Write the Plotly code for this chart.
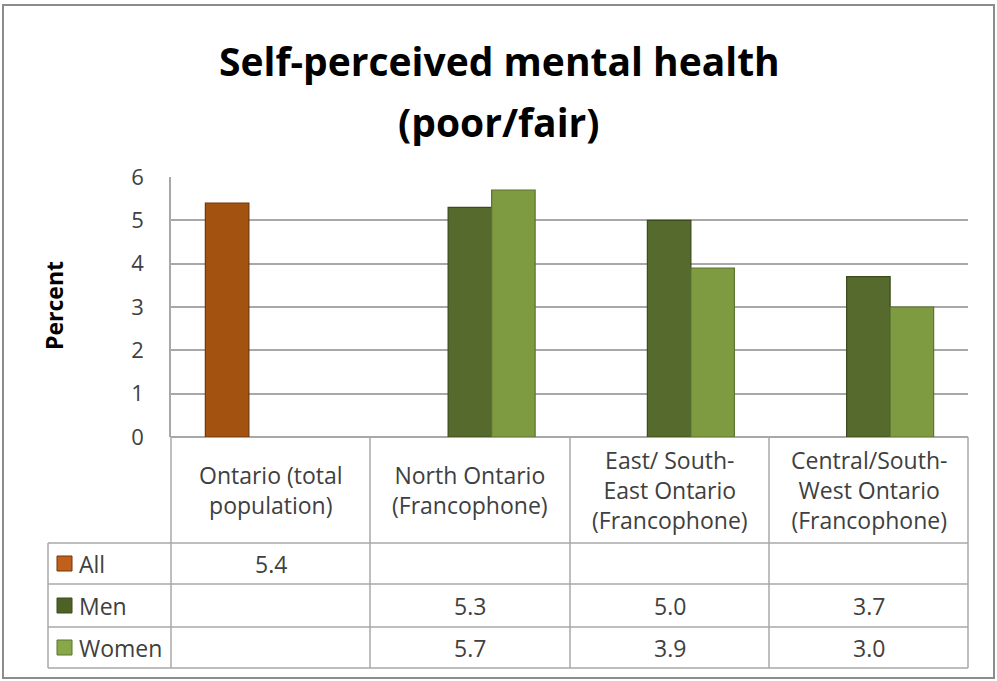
import plotly.graph_objects as go

categories = ["Ontario (total<br>population)", "North Ontario<br>(Francophone)",
              "East/ South-<br>East Ontario<br>(Francophone)", "Central/South-<br>West Ontario<br>(Francophone)"]
series_names = ["All", "Men", "Women"]
all_vals = [5.4, None, None, None]
men_vals = [None, 5.3, 5.0, 3.7]
women_vals = [None, 5.7, 3.9, 3.0]
y_ticks = [0, 1, 2, 3, 4, 5, 6]

colors = ["#A3530F", "#566A2D", "#7E9B41"]
edge = ["#6E3708", "#3A4A1C", "#5A7430"]
key_colors = ["#C0601A", "#4E6228", "#86A848"]
series_vals = [all_vals, men_vals, women_vals]

W, H = 997, 681
L, R, T, B = 171, 968, 177, 437

def px(x):
    return (x - L) / (R - L)

def py(y):
    return (B - y) / (B - T)

fig = go.Figure()
for name, vals, c, e in zip(series_names, series_vals, colors, edge):
    fig.add_trace(go.Bar(x=categories, y=vals, name=name, marker=dict(color=c, line=dict(color=e, width=1.2)),
                         showlegend=False, hoverinfo="skip"))

FONT = "Open Sans"
TXT = "#404040"
grid = "#A8A8A8"
BODY = 23

shapes = []
annotations = []

# outer chart border
shapes.append(dict(type="rect", xref="paper", yref="paper", x0=px(3), x1=px(994), y0=py(5), y1=py(678),
                   line=dict(color="#8C8C8C", width=2), layer="below"))

# table grid
col_x = [L, 370, 570, 769, R]
row_y = [B, 543, 584, 627, 668]
def hline(x0, x1, y):
    shapes.append(dict(type="line", xref="paper", yref="paper", x0=px(x0), x1=px(x1), y0=py(y), y1=py(y),
                       line=dict(color=grid, width=1.5)))
def vline(x, y0, y1):
    shapes.append(dict(type="line", xref="paper", yref="paper", x0=px(x), x1=px(x), y0=py(y0), y1=py(y1),
                       line=dict(color=grid, width=1.5)))
for y in row_y[1:]:
    hline(48, R, y)
for x in col_x:
    vline(x, B, 668)
vline(48, 543, 668)

# header labels
for i, cat in enumerate(categories):
    cx = (col_x[i] + col_x[i + 1]) / 2
    annotations.append(dict(xref="paper", yref="paper", x=px(cx), y=py(490), text=cat, showarrow=False,
                            xanchor="center", yanchor="middle", font=dict(family=FONT, size=BODY, color=TXT)))

# data rows with legend keys
for r, (name, vals) in enumerate(zip(series_names, series_vals)):
    cy = (row_y[r + 1] + row_y[r + 2]) / 2
    shapes.append(dict(type="rect", xref="paper", yref="paper", x0=px(57), x1=px(72), y0=py(cy - 7.5), y1=py(cy + 7.5),
                       fillcolor=key_colors[r], line=dict(color=edge[r], width=1)))
    annotations.append(dict(xref="paper", yref="paper", x=px(77), y=py(cy), text=name, showarrow=False,
                            xanchor="left", yanchor="middle", font=dict(family=FONT, size=BODY, color=TXT)))
    for i, v in enumerate(vals):
        if v is None:
            continue
        cx = (col_x[i] + col_x[i + 1]) / 2
        annotations.append(dict(xref="paper", yref="paper", x=px(cx), y=py(cy), text=f"{v:.1f}", showarrow=False,
                                xanchor="center", yanchor="middle", font=dict(family=FONT, size=BODY, color=TXT)))

# title
annotations.append(dict(xref="paper", yref="paper", x=px(499), y=py(60), text="<b>Self-perceived mental health</b>",
                        showarrow=False, xanchor="center", yanchor="middle",
                        font=dict(family=FONT, size=39, color="#000000")))
annotations.append(dict(xref="paper", yref="paper", x=px(499), y=py(121), text="<b>(poor/fair)</b>",
                        showarrow=False, xanchor="center", yanchor="middle",
                        font=dict(family=FONT, size=39, color="#000000")))
# y axis title
annotations.append(dict(xref="paper", yref="paper", x=px(54), y=py(306), text="<b>Percent</b>", textangle=-90,
                        showarrow=False, xanchor="center", yanchor="middle",
                        font=dict(family=FONT, size=23, color="#000000")))

fig.update_layout(
    width=W, height=H,
    margin=dict(l=L, r=W - R, t=T, b=H - B, pad=0),
    paper_bgcolor="white", plot_bgcolor="white",
    barmode="group", bargap=0.345, bargroupgap=0,
    shapes=shapes, annotations=annotations,
    xaxis=dict(showticklabels=False, showgrid=False, zeroline=False, showline=False, ticks="",
               range=[-0.5, 3.5], fixedrange=True),
    yaxis=dict(range=[0, 6], tickvals=y_ticks, showgrid=True, gridcolor=grid, gridwidth=1.5,
               zeroline=True, zerolinecolor=grid, zerolinewidth=1.5,
               showline=True, linecolor=grid, linewidth=1.5, ticks="", ticklabelstandoff=21,
               tickfont=dict(family=FONT, size=22, color=TXT), fixedrange=True),
)

fig.write_html("out.html", config={"displayModeBar": False},
               post_script="document.body.style.margin='0';document.body.style.overflow='hidden';")
